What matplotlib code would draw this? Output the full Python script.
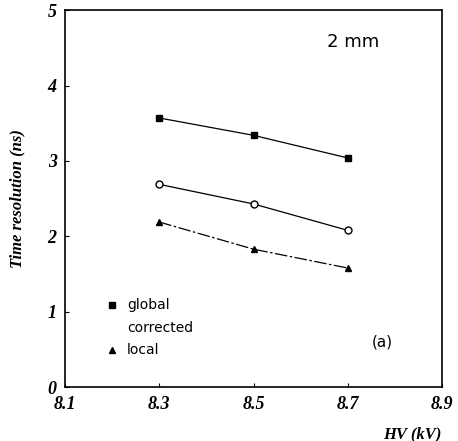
import matplotlib
matplotlib.use("Agg")
import matplotlib.pyplot as plt

# HV settings and time resolution (ns)
hv = [8.3, 8.5, 8.7]
global_res = [3.57, 3.34, 3.04]
corrected_res = [2.69, 2.43, 2.08]
local_res = [2.19, 1.83, 1.58]

x_ticks = [8.1, 8.3, 8.5, 8.7, 8.9]
y_ticks = [0, 1, 2, 3, 4, 5]

tick_font = dict(family="Liberation Serif", weight="bold", style="italic", size=13)
label_font = dict(family="DejaVu Sans", size=10)

fig = plt.figure(figsize=(4.58, 4.41), dpi=100)
ax = fig.add_axes([0.142, 0.122, 0.823, 0.855])

ax.plot(hv, global_res, color="black", lw=0.9, marker="s", ms=5)
ax.plot(hv, corrected_res, color="black", lw=0.9, marker="o", ms=5,
        mfc="white", mew=1.0)
ax.plot(hv, local_res, color="black", lw=0.9, marker="^", ms=5,
        linestyle=(0, (10, 2, 2, 2)))

ax.set_xlim(8.1, 8.9)
ax.set_ylim(0, 5)
ax.set_xticks(x_ticks)
ax.set_yticks(y_ticks)
ax.set_xticklabels([f"{v:.1f}" for v in x_ticks], fontdict=tick_font)
ax.set_yticklabels([str(v) for v in y_ticks], fontdict=tick_font)
ax.tick_params(direction="in", length=3, width=0.8, pad=6)

for s in ax.spines.values():
    s.set_linewidth(1.2)

ax.set_ylabel("Time resolution (ns)", fontdict=dict(family="Liberation Serif",
              weight="bold", style="italic", size=12), labelpad=16)
ax.text(1.0, -0.125, "HV (kV)", transform=ax.transAxes, ha="right", va="center",
        fontdict=dict(family="Liberation Serif", weight="bold", style="italic", size=12))

ax.text(8.655, 4.58, "2 mm", ha="left", va="center", fontsize=13, family="DejaVu Sans")
ax.text(8.75, 0.6, "(a)", ha="left", va="center", fontsize=11, family="DejaVu Sans")

# hand-placed legend
ax.plot([8.2], [1.09], marker="s", color="black", ms=5, ls="none")
ax.text(8.232, 1.09, "global", va="center", **label_font)
ax.text(8.232, 0.79, "corrected", va="center", **label_font)
ax.plot([8.2], [0.49], marker="^", color="black", ms=5, ls="none")
ax.text(8.232, 0.49, "local", va="center", **label_font)

fig.savefig("out.png", dpi=100)
